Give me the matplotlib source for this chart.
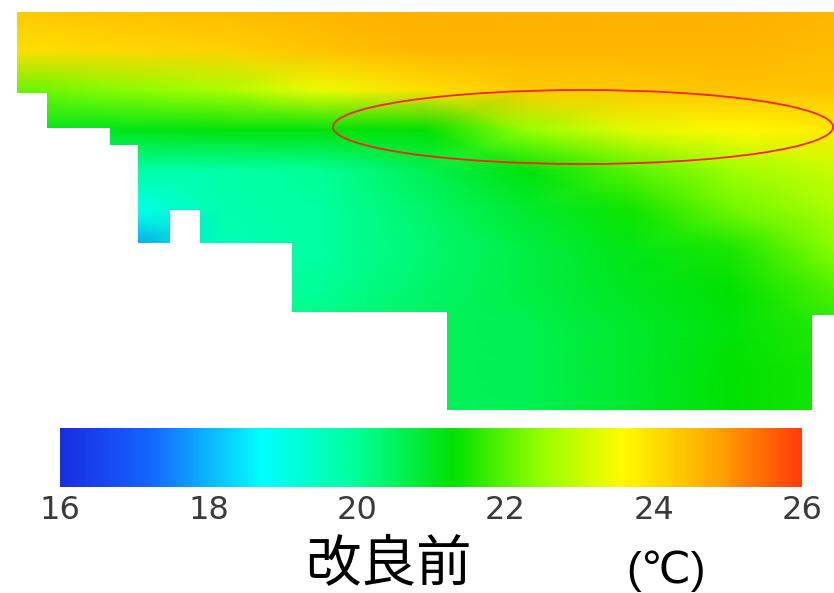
import numpy as np
import matplotlib
matplotlib.use("Agg")
import matplotlib.pyplot as plt
from matplotlib.colors import LinearSegmentedColormap
from matplotlib.patches import Ellipse, Polygon

# grid nodes of the section (horizontal position, depth) in picture units
x_nodes = [17, 119, 221, 323, 425, 527, 629, 731, 834]
depth_nodes = [12, 50, 90, 130, 170, 210, 250, 290, 330, 370, 410]

# water temperature at the nodes (deg C), one row per depth
temp = [
    [24.3, 24.4, 24.5, 24.6, 24.7, 24.7, 24.7, 24.7, 24.6],
    [24.0, 24.1, 24.2, 24.4, 24.6, 24.6, 24.6, 24.6, 24.5],
    [22.1, 22.4, 22.7, 23.4, 24.0, 24.3, 24.3, 24.4, 24.4],
    [21.0, 21.1, 21.2, 21.2, 21.3, 22.5, 23.3, 23.6, 23.8],
    [20.0, 19.8, 19.8, 20.0, 20.6, 21.2, 22.0, 22.6, 23.0],
    [18.6, 18.8, 19.7, 19.9, 20.4, 20.9, 21.4, 22.2, 22.7],
    [17.6, 17.6, 19.6, 19.9, 20.3, 20.7, 21.1, 21.5, 22.4],
    [19.5, 19.5, 19.8, 20.0, 20.4, 20.7, 21.0, 21.3, 21.9],
    [20.0, 20.0, 20.0, 20.2, 20.5, 20.6, 20.9, 21.2, 21.6],
    [20.3, 20.3, 20.3, 20.4, 20.5, 20.6, 20.9, 21.3, 21.5],
    [20.3, 20.3, 20.3, 20.4, 20.5, 20.6, 20.9, 21.3, 21.5],
]

# outline of the water body (stepped bottom)
coast_x = [17, 834, 834, 812, 812, 447, 447, 292, 292, 200, 200, 170, 170,
           138, 138, 110, 110, 47, 47, 17]
coast_y = [12, 12, 315, 315, 410, 410, 312, 312, 243, 243, 210, 210, 243,
           243, 145, 145, 128, 128, 93, 93]

cbar_ticks = [16, 18, 20, 22, 24, 26]

cmap = LinearSegmentedColormap.from_list("sec", [
    (0.00, (25/255, 45/255, 225/255)),
    (0.12, (20/255, 100/255, 1.0)),
    (0.27, (0.0, 1.0, 1.0)),
    (0.40, (0.0, 1.0, 150/255)),
    (0.53, (0.0, 225/255, 0.0)),
    (0.65, (150/255, 1.0, 0.0)),
    (0.76, (1.0, 250/255, 0.0)),
    (0.88, (1.0, 170/255, 0.0)),
    (1.00, (1.0, 60/255, 10/255)),
])

fig = plt.figure(figsize=(8.34, 5.93), dpi=100)
ax = fig.add_axes([0, 0, 1, 1])
ax.set_xlim(0, 834)
ax.set_ylim(593, 0)
ax.axis("off")

X, Y = np.meshgrid(x_nodes, depth_nodes)
mesh = ax.pcolormesh(X, Y, np.array(temp), cmap=cmap, vmin=16, vmax=26,
                     shading="gouraud")
water = Polygon(np.column_stack([coast_x, coast_y]), closed=True,
                transform=ax.transData, facecolor="none", edgecolor="none")
ax.add_patch(water)
mesh.set_clip_path(water)

ax.add_patch(Ellipse((583, 127), 500, 74, facecolor="none",
                     edgecolor="#ff2020", lw=1.3, clip_on=False))

# colorbar
cax = fig.add_axes([60/834, 1 - 487/593, 742/834, 59/593])
cb = fig.colorbar(mesh, cax=cax, orientation="horizontal", ticks=cbar_ticks)
cb.outline.set_visible(False)
cax.tick_params(length=0, pad=6, labelsize=23, labelcolor="#3a3a3a")
for lab in cax.get_xticklabels():
    lab.set_family("DejaVu Sans")

fig.text(388/834, 1 - 564/593, "改良前", family=["Noto Sans CJK JP"],
         fontsize=40, ha="center", va="center")
fig.text(666/834, 1 - 571/593, "(℃)",
         family=["Liberation Sans", "DejaVu Sans", "Noto Sans CJK JP"],
         fontsize=32, ha="center", va="center")

fig.savefig("out.png", dpi=100)
